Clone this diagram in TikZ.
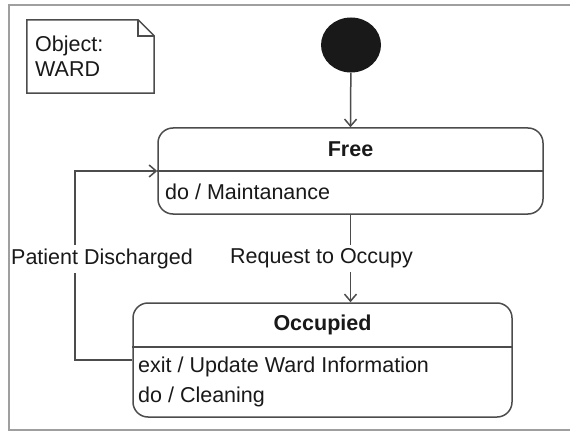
\documentclass[tikz,border=0pt]{standalone}
\usepackage{fontspec}
\setmainfont{Liberation Sans}
\usetikzlibrary{positioning,arrows.meta,shapes.geometric}

\tikzset{
  >={Straight Barb[length=7pt,width=12pt]},
  every node/.style={font=\fontsize{21.5}{25}\selectfont, text=black!90},
  line/.style={draw=black!70, line width=1.5pt},
  state/.style={line, rounded corners=15pt, inner sep=0pt},
  title/.style={font=\fontsize{21.5}{25}\selectfont\bfseries},
  lbl/.style={fill=white, inner xsep=1pt, inner ysep=4pt},
}

\begin{document}
\begin{tikzpicture}[x=1pt,y=-1pt]

\useasboundingbox (0,0) rectangle (570,433);
\fill[white] (0,0) rectangle (570,433);

\draw[gray!75, line width=2pt] (575,5) -- (9,5) -- (9,430) -- (575,430);

% note
\node[minimum width=127pt, minimum height=73pt] (note) at (90.5,56.5) {};
\node[anchor=west, align=left, inner sep=0pt] (notetext) at (35,56) {Object:\\WARD};
\draw[line] (note.north west) -- ([xshift=-16pt]note.north east)
  -- ([yshift=-16pt]note.north east) -- (note.south east) -- (note.south west) -- cycle;
\draw[line] ([xshift=-16pt]note.north east) -- ([xshift=-16pt,yshift=-16pt]note.north east)
  -- ([yshift=-16pt]note.north east);

\node[ellipse, fill=black!90, minimum width=60pt, minimum height=55pt, inner sep=0pt] (start) at (351,45) {};

% Free
\node[state, minimum width=385pt, minimum height=86pt] (free) at (350.5,171) {};
\draw[line] (free.west) -- (free.east);
\node[title] (freetitle) at (350.5,149.5) {Free};
\node[anchor=west, inner sep=0pt] (freedo) at (165,192) {do / Maintanance};

% Occupied
\node[state, minimum width=379pt, minimum height=114pt] (occupied) at (322.5,360) {};
\draw[line] (occupied.west |- 0,347) -- (occupied.east |- 0,347);
\node[title] (occupiedtitle) at (322.5,325) {Occupied};
\node[anchor=west, align=left, inner sep=0pt, font=\fontsize{21.5}{30}\selectfont] (occupieddo) at (138,382)
  {exit / Update Ward Information\\do / Cleaning};

\draw[line,->] (start) -- (free.north);
\draw[line,->] (free.south) -- (free.south |- occupied.north)
  node[lbl, midway, xshift=-29pt] (request) {Request to Occupy};

\coordinate (corner) at (75,360);
\draw[line,->] (occupied.west) -- (corner) |- (free.west);
\node[lbl] (discharged) at (102,259) {Patient Discharged};

\end{tikzpicture}
\end{document}
